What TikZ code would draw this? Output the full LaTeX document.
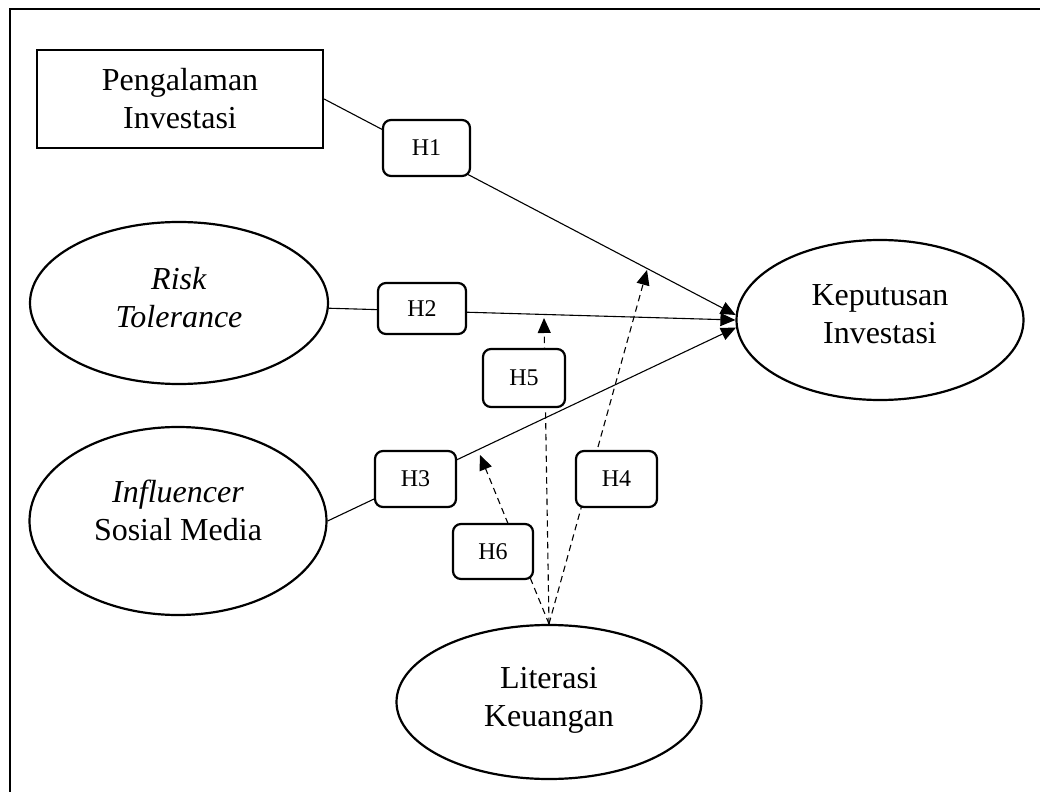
\documentclass[tikz,border=0pt]{standalone}
\usepackage{fontspec}
\setmainfont{Liberation Serif}
\usetikzlibrary{shapes.geometric,arrows.meta,backgrounds}
\begin{document}
\begin{tikzpicture}[x=0.5pt,y=-0.5pt,
  var/.style={draw,line width=1.1pt,inner sep=0pt},
  oval/.style={var,ellipse},
  lbl/.style={align=center,inner sep=0pt,font=\fontsize{16}{19}\selectfont},
  hyp/.style={draw,line width=1.1pt,rounded corners=4pt,fill=white,inner sep=0pt,
    font=\fontsize{12}{14}\selectfont},
  solidpath/.style={line width=0.55pt},
  dashpath/.style={line width=0.55pt,dash pattern=on 3.2pt off 2.2pt},
  tip/.style={-{Triangle[length=7.5pt,width=6.5pt]}}]
\useasboundingbox (0,0) rectangle (1040,792);
\draw[line width=1.3pt] (1040,9) -- (10,9) -- (10,792);

% variables
\node[var,rectangle,lbl,minimum width=143pt,minimum height=49pt] (peng) at (180,99) {Pengalaman\\Investasi};
\node[oval,minimum width=149pt,minimum height=81pt] (risk) at (179,303) {};
\node[lbl] (risk-t) at (179,298) {\textit{Risk}\\\textit{Tolerance}};
\node[oval,minimum width=148.5pt,minimum height=94pt] (infl) at (178,521) {};
\node[lbl] (infl-t) at (178,510) {\textit{Influencer}\\Sosial Media};
\node[oval,minimum width=143.5pt,minimum height=80pt] (kep) at (880,320) {};
\node[lbl] (kep-t) at (880,314) {Keputusan\\Investasi};
\node[oval,minimum width=152.5pt,minimum height=77pt] (lit) at (549,702) {};
\node[lbl] (lit-t) at (549,700) {Literasi\\Keuangan};

% hypotheses
\node[hyp,minimum width=43.5pt,minimum height=28pt] (h1) at (426.5,148) {H1};
\node[hyp,minimum width=44pt,minimum height=25.5pt] (h2) at (422,308.5) {H2};
\node[hyp,minimum width=40.5pt,minimum height=28pt] (h3) at (415.5,479) {H3};
\node[hyp,minimum width=40.5pt,minimum height=28pt] (h4) at (616.5,479) {H4};
\node[hyp,minimum width=41pt,minimum height=29pt] (h5) at (524,378) {H5};
\node[hyp,minimum width=40pt,minimum height=27.5pt] (h6) at (493,551.5) {H6};

\coordinate (t4) at (647,270);
\coordinate (t5) at (544,318);
\coordinate (t6) at (480,455);

\begin{scope}[on background layer]
\draw[solidpath,tip] (peng.east) -- (kep.178);
\draw[solidpath,tip] (risk.358) -- (kep.west);
\draw[solidpath,tip] (infl.east) -- (kep.183);
\draw[dashpath,tip] (lit.north) -- (t5);
\draw[dashpath,tip] (lit.north) -- (t4);
\draw[dashpath,tip] (lit.north) -- (t6);
\end{scope}
\end{tikzpicture}
\end{document}
